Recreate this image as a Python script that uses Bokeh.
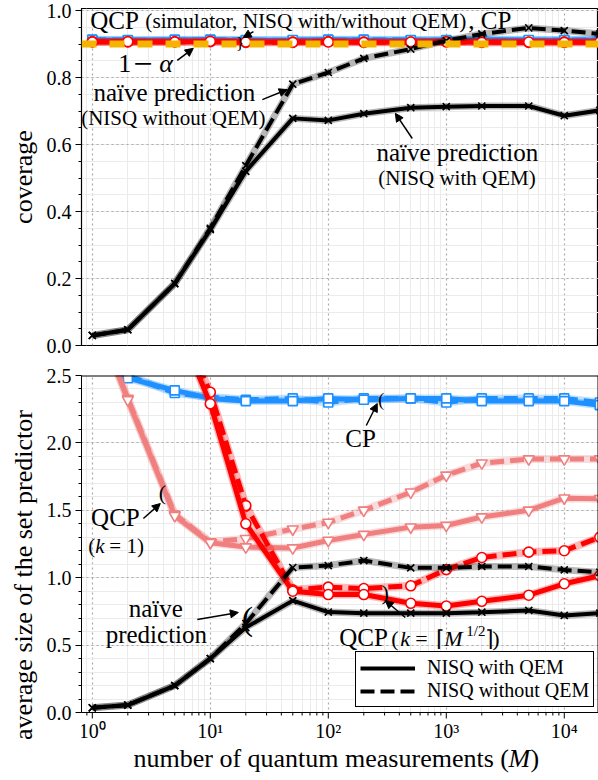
import numpy as np
from bokeh.plotting import figure
from bokeh.layouts import column
from bokeh.models import (Range1d, FixedTicker, Span, Arrow, NormalHead, Legend,
                          LegendItem)
from bokeh.core.properties import value
from bokeh.embed import file_html
from bokeh.resources import INLINE

FONT = "Liberation Serif"
FONT_CSS = "'Liberation Serif', serif"

# ---------------- data ----------------
M = [1, 2, 5, 10, 20, 50, 100, 200, 500, 1000, 2000, 5000, 10000, 20000]
ALPHA = 0.1

# coverage (top panel)
cov_naive_qem = [0.03, 0.047, 0.185, 0.346, 0.52, 0.678, 0.672, 0.692, 0.71, 0.713, 0.715, 0.715, 0.686, 0.702]
cov_naive_noqem = [0.03, 0.047, 0.185, 0.35, 0.537, 0.78, 0.815, 0.857, 0.885, 0.91, 0.93, 0.948, 0.94, 0.93]
cov_cp_qem = [0.912, 0.911, 0.913, 0.912, 0.911, 0.912, 0.913, 0.912, 0.911, 0.912, 0.913, 0.912, 0.911, 0.912]
cov_cp_noqem = [0.913, 0.912, 0.911, 0.913, 0.912, 0.911, 0.912, 0.913, 0.912, 0.911, 0.912, 0.911, 0.912, 0.913]
cov_qcp_qem = [0.906, 0.907, 0.906, 0.908, 0.906, 0.905, 0.906, 0.905, 0.906, 0.907, 0.905, 0.906, 0.905, 0.906]
cov_qcp_noqem = [0.907, 0.906, 0.907, 0.907, 0.905, 0.906, 0.907, 0.906, 0.905, 0.906, 0.906, 0.905, 0.906, 0.905]

# average set size (bottom panel)
size_cp_qem = [2.62, 2.48, 2.39, 2.33, 2.31, 2.31, 2.33, 2.32, 2.33, 2.33, 2.31, 2.31, 2.31, 2.28]
size_cp_noqem = [2.63, 2.50, 2.37, 2.34, 2.32, 2.33, 2.30, 2.33, 2.33, 2.30, 2.33, 2.33, 2.33, 2.30]
size_k1_qem = [3.0, 2.32, 1.46, 1.26, 1.227, 1.22, 1.276, 1.32, 1.375, 1.387, 1.45, 1.50, 1.59, 1.585]
size_k1_noqem = [3.0, 2.33, 1.47, 1.265, 1.29, 1.36, 1.41, 1.50, 1.634, 1.76, 1.85, 1.88, 1.88, 1.88]
size_ksqrt_qem = [3.0, 3.5, 2.93, 2.29, 1.40, 0.90, 0.875, 0.875, 0.81, 0.79, 0.825, 0.87, 0.955, 1.015]
size_ksqrt_noqem = [3.0, 3.5, 2.95, 2.376, 1.535, 0.91, 0.93, 0.92, 0.94, 1.06, 1.15, 1.19, 1.20, 1.30]
size_naive_qem = [0.035, 0.055, 0.20, 0.40, 0.63, 0.83, 0.745, 0.737, 0.737, 0.737, 0.744, 0.757, 0.72, 0.737]
size_naive_noqem = [0.035, 0.055, 0.20, 0.40, 0.66, 1.075, 1.09, 1.127, 1.073, 1.073, 1.083, 1.083, 1.058, 1.04]

# ticks
x_ticks = [1, 10, 100, 1000, 10000]
x_tick_labels = ["10\u2070", "10\u00b9", "10\u00b2", "10\u00b3", "10\u2074"]
cov_ticks = [0.0, 0.2, 0.4, 0.6, 0.8, 1.0]
cov_tick_labels = ["0.0", "0.2", "0.4", "0.6", "0.8", "1.0"]
size_ticks = [0.0, 0.5, 1.0, 1.5, 2.0, 2.5]
size_tick_labels = ["0.0", "0.5", "1.0", "1.5", "2.0", "2.5"]

BLACK = "#000000"
RED = "#ff0000"
CORAL = "#f08080"
BLUE = "#1e90ff"
ORANGE = "#f5b400"
DASH = "14 6"

X_RANGE = (0.81, 1.95e4)
x_minor = [k * 10.0 ** e for e in range(-1, 5) for k in range(2, 10)
           if X_RANGE[0] <= k * 10.0 ** e <= X_RANGE[1]]

FRAME_H = 337          # plotting area height of each panel (px)
SIZE_MAX = 2.5
PX = FRAME_H / SIZE_MAX  # px per unit in the bottom panel
EXT = 62               # extra px below the bottom panel for x ticks / labels
BASE_SHIFT = 0.34      # text is drawn centred on y: lift by this many em to sit on the baseline


def make_fig(y_start, y_end, yt, ytl, y_minor, ylabel, top_b, bottom_b, frame_h):
    p = figure(frame_width=517, frame_height=frame_h, x_axis_type="log",
               x_range=Range1d(*X_RANGE), y_range=Range1d(y_start, y_end),
               output_backend="svg", toolbar_location=None,
               min_border_left=81, min_border_right=0,
               min_border_top=top_b, min_border_bottom=bottom_b)
    p.background_fill_color = "white"
    p.border_fill_color = "white"
    p.outline_line_color = "black"
    p.outline_line_width = 1.2
    p.outline_line_alpha = 1.0

    xt = FixedTicker(ticks=x_ticks, minor_ticks=x_minor)
    p.xaxis.ticker = xt
    p.xgrid.ticker = xt
    p.xaxis.visible = False

    ytk = FixedTicker(ticks=yt, minor_ticks=y_minor)
    p.yaxis.ticker = ytk
    p.ygrid.ticker = ytk
    p.yaxis.major_label_overrides = {t: l for t, l in zip(yt, ytl)}
    p.yaxis.axis_label = ylabel

    for ax in p.yaxis:
        ax.axis_line_color = "black"
        ax.axis_line_width = 1
        ax.major_tick_line_color = "black"
        ax.minor_tick_line_color = "black"
        ax.major_tick_out = 6
        ax.major_tick_in = 0
        ax.minor_tick_out = 3
        ax.minor_tick_in = 0
        ax.major_label_text_font = FONT_CSS
        ax.major_label_text_font_size = "20px"
        ax.major_label_text_color = "black"
        ax.major_label_standoff = 4
        ax.axis_label_text_font = FONT_CSS
        ax.axis_label_text_font_size = "26px"
        ax.axis_label_text_font_style = "normal"
        ax.axis_label_text_color = "black"
        ax.axis_label_standoff = 6

    for g in (p.xgrid, p.ygrid):
        g.grid_line_color = "#aaaaaa"
        g.grid_line_dash = "2 3"
        g.grid_line_width = 1.2
        g.minor_grid_line_color = "#ebebeb"
        g.minor_grid_line_width = 1
    return p


def series(p, y, color, dash, marker, msize=10, lw=5):
    p.line(M, y, line_color=color, line_width=lw + 3, line_alpha=0.28)
    r = p.line(M, y, line_color=color, line_width=lw, line_dash=dash)
    if marker == "x":
        p.scatter(M, y, marker="x", size=msize, line_color=color, line_width=1.6)
    else:
        p.scatter(M, y, marker=marker, size=msize, line_color=color,
                  fill_color="white", line_width=1.6)
    return r


def txt(p, x, y, s, size, dx=0, dy=0, style="normal", align="left", baseline="alphabetic"):
    if baseline == "alphabetic":
        dy = dy - BASE_SHIFT * size
    p.text(x=[x], y=[y], text=[s], x_offset=dx, y_offset=dy,
           text_font=value(FONT), text_font_size=f"{size}px",
           text_font_style=style, text_align=align, text_baseline=baseline,
           text_color="black")


def arrow(p, x0, y0, x1, y1):
    p.add_layout(Arrow(end=NormalHead(size=8, fill_color="black", line_color="black"),
                       x_start=x0, y_start=y0, x_end=x1, y_end=y1,
                       line_color="black", line_width=1.5))


# ---------------- top: coverage ----------------
cov_minor = [round(v, 2) for v in np.arange(0.0, 1.001, 0.05)]
p1 = make_fig(0.0, 1.006, cov_ticks, cov_tick_labels, cov_minor, "coverage", 8, 15, FRAME_H)

series(p1, cov_cp_noqem, BLUE, DASH, "square", 9)
series(p1, cov_cp_qem, BLUE, "solid", "square", 9)
series(p1, cov_qcp_noqem, RED, DASH, "circle", 10)
series(p1, cov_qcp_qem, RED, "solid", "circle", 10)
p1.add_layout(Span(location=1 - ALPHA, dimension="width", line_color=ORANGE,
                   line_width=7, line_dash="15 13"))
series(p1, cov_naive_noqem, BLACK, DASH, "x", 10, 4)
series(p1, cov_naive_qem, BLACK, "solid", "x", 10, 4)

# annotations (top)
txt(p1, 0.962, 0.946, "QCP", 25)
txt(p1, 0.962, 0.946, "(simulator, NISQ with/without QEM)", 21.3, dx=55)
txt(p1, 0.962, 0.946, ", CP", 25, dx=378)
txt(p1, 17.9, 0.903, "}", 17, align="center", baseline="middle")
arrow(p1, 23.2, 0.937, 19.0, 0.919)

txt(p1, 1.66, 0.815, "1", 26)
txt(p1, 1.66, 0.815, "\u2212", 34, dx=15, dy=3)
txt(p1, 1.66, 0.815, "\u03b1", 26, dx=41, style="italic")
arrow(p1, 5.25, 0.851, 7.18, 0.887)

txt(p1, 4.95, 0.731, "na\u00efve prediction", 25, align="center")
txt(p1, 4.86, 0.657, "(NISQ without QEM)", 21, align="center")
arrow(p1, 27.6, 0.734, 44.9, 0.764)

txt(p1, 1240, 0.552, "na\u00efve prediction", 25, align="center")
txt(p1, 1230, 0.478, "(NISQ with QEM)", 21, align="center")
arrow(p1, 515, 0.618, 370, 0.693)

# ---------------- bottom: average size (frame extended below 0 for the x axis) ----------------
size_minor = [round(v, 2) for v in np.arange(0.0, 2.501, 0.1)]
Y0 = -EXT / PX
p2 = make_fig(Y0, SIZE_MAX, size_ticks, size_tick_labels, size_minor,
              "average size of the set predictor", 15, 0, FRAME_H + EXT)
p2.outline_line_color = None
p2.yaxis.bounds = (0, SIZE_MAX)

# blank strip below y = 0 (hides grid lines there)
p2.quad(left=[X_RANGE[0]], right=[X_RANGE[1]], bottom=[Y0], top=[0],
        fill_color="white", line_color=None)

series(p2, size_cp_noqem, BLUE, DASH, "square", 9)
series(p2, size_cp_qem, BLUE, "solid", "square", 9)
series(p2, size_k1_noqem, CORAL, DASH, "inverted_triangle", 11)
series(p2, size_k1_qem, CORAL, "solid", "inverted_triangle", 11)
series(p2, size_ksqrt_noqem, RED, DASH, "circle", 10)
series(p2, size_ksqrt_qem, RED, "solid", "circle", 10)
r_dash = series(p2, size_naive_noqem, BLACK, DASH, "x", 10, 4)
r_solid = series(p2, size_naive_qem, BLACK, "solid", "x", 10, 4)

# re-cover anything that spilled below y = 0, then draw the frame box and the x axis
p2.quad(left=[X_RANGE[0]], right=[X_RANGE[1]], bottom=[Y0], top=[-0.6 / PX],
        fill_color="white", line_color=None)
p2.segment(x0=[X_RANGE[0]], y0=[0], x1=[X_RANGE[1]], y1=[0], line_color="black", line_width=1.2)
p2.segment(x0=[X_RANGE[0]], y0=[SIZE_MAX], x1=[X_RANGE[1]], y1=[SIZE_MAX],
           line_color="black", line_width=2)
p2.segment(x0=[X_RANGE[1]], y0=[0], x1=[X_RANGE[1]], y1=[SIZE_MAX],
           line_color="black", line_width=2)
p2.segment(x0=x_ticks, y0=[0] * len(x_ticks), x1=x_ticks, y1=[-6 / PX] * len(x_ticks),
           line_color="black", line_width=1)
p2.segment(x0=x_minor, y0=[0] * len(x_minor), x1=x_minor, y1=[-3 / PX] * len(x_minor),
           line_color="black", line_width=1)
p2.text(x=x_ticks, y=[-25 / PX] * len(x_ticks), text=x_tick_labels,
        y_offset=-BASE_SHIFT * 20,
        text_font=value(FONT), text_font_size="20px", text_align="center",
        text_baseline="alphabetic", text_color="black")
XL = 2.234  # left end of the x-axis label, in data units
YL = -55 / PX
txt(p2, XL, YL, "number of quantum measurements (", 26)
txt(p2, XL, YL, "M", 26, dx=375, style="italic")
txt(p2, XL, YL, ")", 26, dx=397)

# annotations (bottom)
txt(p2, 188, 1.973, "CP", 25, align="center")
txt(p2, 281, 2.315, "(", 18, align="center", baseline="middle")
arrow(p2, 210, 2.129, 260, 2.292)

txt(p2, 1.57, 1.387, "QCP", 25, align="center")
txt(p2, 0.925, 1.18, "(", 21)
txt(p2, 0.925, 1.18, "k", 21, dx=7, style="italic")
txt(p2, 0.925, 1.18, "= 1)", 21, dx=21)
txt(p2, 3.92, 1.632, "(", 22, align="center", baseline="middle")
arrow(p2, 2.71, 1.439, 3.77, 1.55)

txt(p2, 3.45, 0.705, "na\u00efve", 25, align="center")
txt(p2, 3.49, 0.512, "prediction", 25, align="center")
txt(p2, 20.6, 0.697, "(", 34, align="center", baseline="middle")
arrow(p2, 7.76, 0.69, 17.3, 0.742)

QY = 0.49
txt(p2, 124, QY, "QCP", 25)
txt(p2, 124, QY, "(", 22, dx=52)
txt(p2, 124, QY, "k", 22, dx=61, style="italic")
txt(p2, 124, QY, "=", 22, dx=76)
txt(p2, 124, QY, "\u2308", 22, dx=97)
txt(p2, 124, QY, "M", 22, dx=105, style="italic")
txt(p2, 124, QY, "1/2", 15, dx=127, dy=-10)
txt(p2, 124, QY, "\u2309", 22, dx=146)
txt(p2, 124, QY, ")", 22, dx=153)
txt(p2, 304, 0.892, ")", 22, align="center", baseline="middle")
arrow(p2, 449, 0.705, 304, 0.831)

legend = Legend(items=[LegendItem(label="NISQ with QEM", renderers=[r_solid]),
                       LegendItem(label="NISQ without QEM", renderers=[r_dash])],
                location=(274, 5 + EXT))
legend.label_text_font = FONT_CSS
legend.label_text_font_size = "20px"
legend.label_text_color = "black"
legend.label_height = 20
legend.glyph_width = 55
legend.glyph_height = 20
legend.spacing = 0
legend.padding = 4
legend.margin = 0
legend.label_standoff = 12
legend.border_line_color = "black"
legend.border_line_width = 1.5
legend.border_line_alpha = 1.0
legend.background_fill_color = "white"
legend.background_fill_alpha = 1.0
p2.add_layout(legend)

layout = column(p1, p2, spacing=0)
open("out.html", "w").write(file_html(layout, INLINE))
